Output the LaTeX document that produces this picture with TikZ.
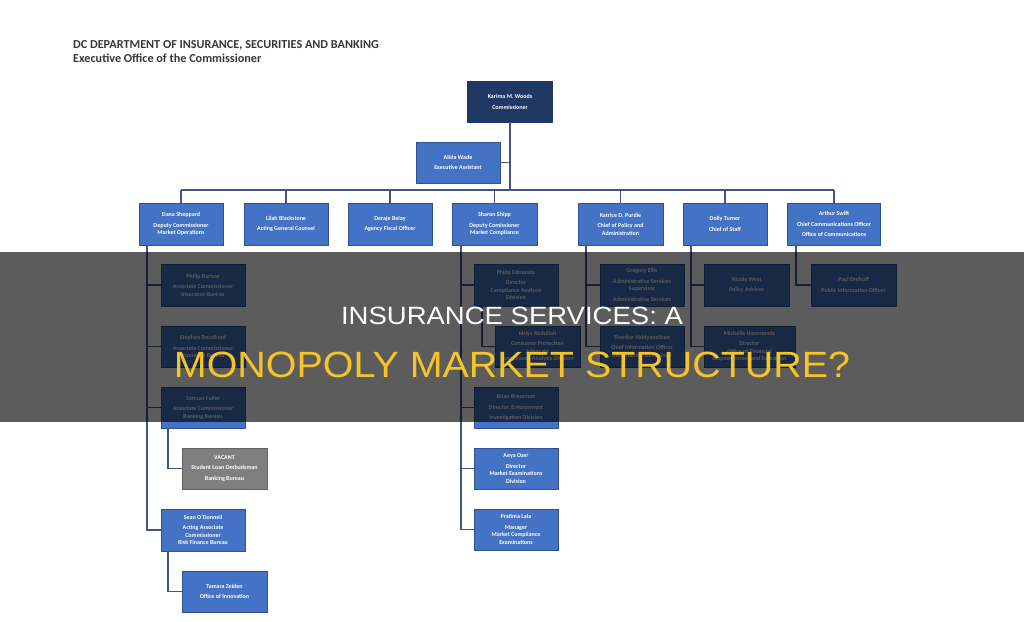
\documentclass[tikz,border=0pt]{standalone}
\usepackage{fontspec}
\usepackage{graphicx}
\setmainfont{Carlito}
\newfontfamily\bannerfont{Liberation Sans}
\definecolor{navy}{RGB}{31,56,100}
\definecolor{boxblue}{RGB}{68,114,196}
\definecolor{boxedge}{RGB}{47,82,143}
\definecolor{vacgray}{RGB}{127,127,127}
\definecolor{vacedge}{RGB}{100,100,100}
\definecolor{connc}{RGB}{68,84,126}
\definecolor{titlec}{RGB}{56,56,56}
\definecolor{bannery}{RGB}{246,196,38}
\tikzset{
  bx/.style={rectangle, fill=boxblue, draw=boxedge, line width=0.6pt, inner sep=1pt,
    minimum width=84pt, minimum height=41pt, text=white, align=center,
    font=\fontsize{6}{7.5}\selectfont\bfseries},
  navybx/.style={bx, fill=navy, draw=navy},
  graybx/.style={bx, fill=vacgray, draw=vacedge},
  conn/.style={draw=connc, line width=1.3pt},
  titletxt/.style={anchor=base west, inner sep=0pt, text=titlec, font=\fontsize{12.2}{14}\selectfont\bfseries},
}
\begin{document}
\begin{tikzpicture}[x=1pt,y=-1pt]
\useasboundingbox (0,0) rectangle (1024,621);
\fill[white] (0,0) rectangle (1024,621);

% header
\node[titletxt] (t1) at (73,48) {DC DEPARTMENT OF INSURANCE, SECURITIES AND BANKING};
\node[titletxt] (t2) at (73,62.5) {Executive Office of the Commissioner};

% coordinates for connector lines
\coordinate (bus) at (0,190);
\coordinate (lt) at (147,0);
\coordinate (lt2) at (168,0);
\coordinate (mt) at (461,0);
\coordinate (mt2) at (482,0);
\coordinate (kt) at (586,0);
\coordinate (dt) at (691,0);
\coordinate (at) at (796,0);

% top
\node[navybx, minimum width=85pt] (comm) at (510,101.5) {Karima M. Woods\\[3.5pt]Commissioner};
\node[bx] (alida) at (458,162.5) {Alida Wade\\[3pt]Executive Assistant};

% second row
\node[bx, minimum height=42pt] (dana) at (181,224) {Dana Sheppard\\[3pt]Deputy Commissioner\\Market Operations};
\node[bx, minimum height=42pt] (lilah) at (286,224) {Lilah Blackstone\\[3pt]Acting General Counsel};
\node[bx, minimum height=42pt] (deraje) at (390,224) {Deraje Belay\\[3pt]Agency Fiscal Officer};
\node[bx, minimum height=42pt, minimum width=85pt] (sharon) at (494.5,224) {Sharon Shipp\\[3pt]Deputy Comissioner\\Market Compliance};
\node[bx, minimum height=42pt, minimum width=85pt] (katrice) at (620.5,224) {Katrice D. Purdie\\[3pt]Chief of Policy and\\Administration};
\node[bx, minimum height=42pt] (dolly) at (725,224) {Dolly Turner\\[3pt]Chief of Staff};
\node[bx, minimum height=42pt, minimum width=93pt] (arthur) at (834,224) {Arthur Swift\\[3pt]Chief Communications Officer\\[3pt]Office of Communications};

% left column
\node[bx, minimum height=42pt] (barlow) at (203,285) {Philip Barlow\\[3pt]Associate Commissioner\\Insurance Bureau};
\node[bx] (boud) at (203,346.5) {Stephen Boudhard\\[3pt]Associate Commissioner\\Insurance Bureau};
\node[bx] (fuller) at (203,407.5) {Samuel Fuller\\[3pt]Associate Commissioner\\Banking Bureau};
\node[graybx, minimum width=85pt] (vacant) at (224.5,468.5) {VACANT\\[3pt]Student Loan Ombudsman\\[3pt]Banking Bureau};
\node[bx, minimum height=42pt] (sean) at (203,530) {Sean O'Donnell\\[3pt]Acting Associate\\Commissioner\\Risk Finance Bureau};
\node[bx, minimum width=85pt] (tamara) at (224.5,591.5) {Tamara Zeiden\\[3pt]Office of Innovation};

% middle column
\node[bx, minimum height=42pt] (edmonds) at (516,285) {Philip Edmonds\\[3pt]Director\\Compliance Analysis\\Division};
\node[bx, minimum width=85pt] (idriys) at (537.5,346.5) {Idriys Abdullah\\[3pt]Consumer Protection\\Advocate\\Compliance Analysis Division};
\node[bx] (bressman) at (516,407.5) {Brian Bressman\\[3pt]Director, Enforcement\\[3pt]Investigation Division};
\node[bx] (ozer) at (516,468.5) {Aeya Ozer\\[3pt]Director\\Market Examinations\\Division};
\node[bx] (lala) at (516,529.5) {Pratima Lala\\[3pt]Manager\\Market Compliance\\Examinations};

% katrice column
\node[bx, minimum height=42pt] (ellis) at (642,285) {Gregory Ellis\\[3pt]Administrative Services\\Supervisor\\[3pt]Administrative Services};
\node[bx] (shankar) at (642,346.5) {Shankar Vaidyanathan\\[3pt]Chief Information Officer\\Information Technology};

% dolly column
\node[bx, minimum height=42pt, minimum width=85pt] (west) at (746.5,285) {Nicole West\\[3pt]Policy Advisor};
\node[bx, minimum width=91pt] (hammonds) at (749.5,346.5) {Michelle Hammonds\\[3pt]Director\\Office of Financial\\Empowerment and Education};

% arthur column
\node[bx, minimum height=42pt, minimum width=85pt] (drehoff) at (853.5,285) {Paul Drehoff\\[3pt]Public Information Officer};

% connectors
\draw[conn] (comm.south) -- (comm.south |- bus);
\draw[conn] (alida.east) -- (alida.east -| comm.south);
\draw[conn] (dana.north |- bus) -- (arthur.north |- bus);
\foreach \n in {dana,lilah,deraje,sharon,katrice,dolly,arthur}
  \draw[conn] (\n.north) -- (\n.north |- bus);

\draw[conn] (dana.south -| lt) -- (sean.west -| lt) -- (sean.west);
\foreach \n in {barlow,boud,fuller}
  \draw[conn] (\n.west -| lt) -- (\n.west);
\draw[conn] (fuller.south -| lt2) -- (vacant.west -| lt2) -- (vacant.west);
\draw[conn] (sean.south -| lt2) -- (tamara.west -| lt2) -- (tamara.west);

\draw[conn] (sharon.south -| mt) -- (lala.west -| mt) -- (lala.west);
\foreach \n in {edmonds,bressman,ozer}
  \draw[conn] (\n.west -| mt) -- (\n.west);
\draw[conn] (edmonds.south -| mt2) -- (idriys.west -| mt2) -- (idriys.west);

\draw[conn] (katrice.south -| kt) -- (shankar.west -| kt) -- (shankar.west);
\draw[conn] (ellis.west -| kt) -- (ellis.west);

\draw[conn] (dolly.south -| dt) -- (hammonds.west -| dt) -- (hammonds.west);
\draw[conn] (west.west -| dt) -- (west.west);

\draw[conn] (arthur.south -| at) -- (drehoff.west -| at) -- (drehoff.west);

% banner overlay
\fill[black, opacity=0.64] (0,252) rectangle (1024,422);
\node[anchor=base, inner sep=0pt, text=white, font=\bannerfont\fontsize{25}{28}\selectfont] (b1) at (512,324) {\scalebox{1.1}[1]{INSURANCE SERVICES: A}};
\node[anchor=base, inner sep=0pt, text=bannery, font=\bannerfont\fontsize{36.5}{40}\selectfont] (b2) at (512,377) {\scalebox{1.08}[1]{MONOPOLY MARKET STRUCTURE?}};
\end{tikzpicture}
\end{document}
